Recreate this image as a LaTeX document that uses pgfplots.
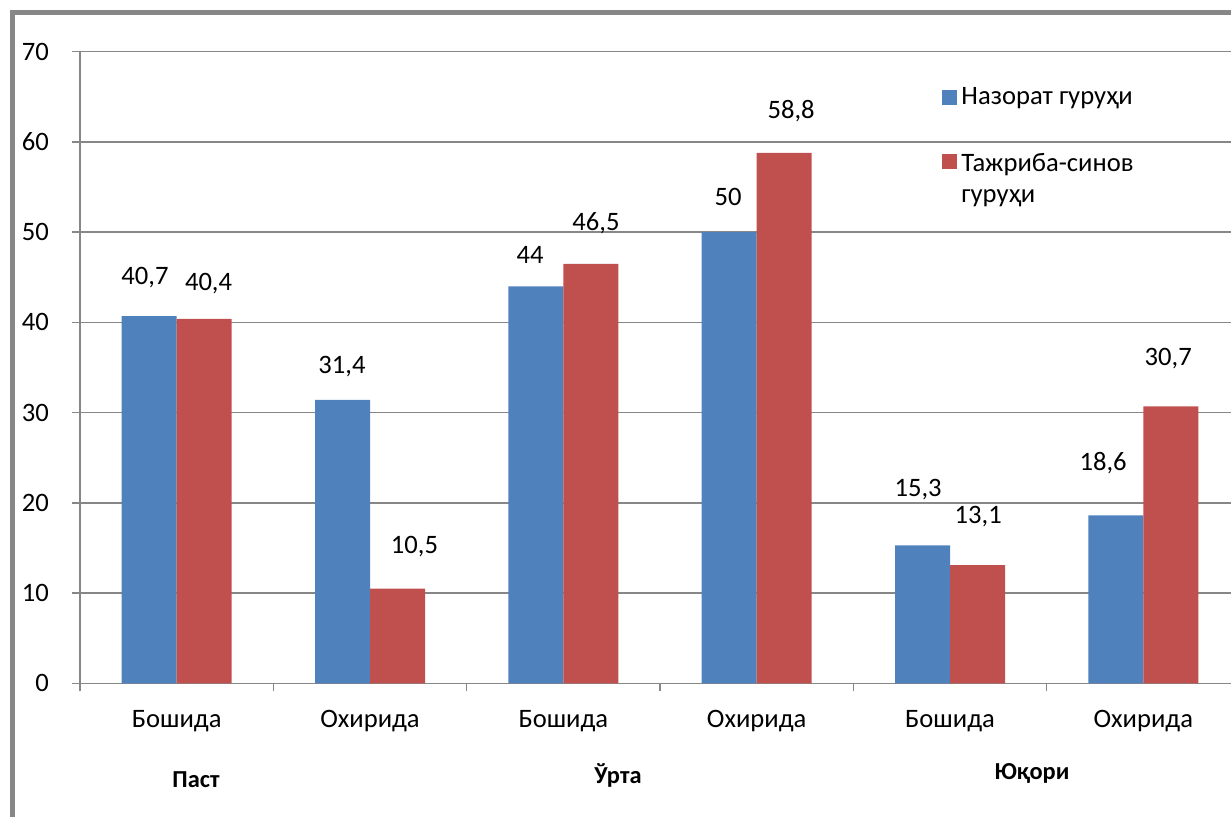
\documentclass[border=0pt]{standalone}
\usepackage{fontspec}
\setmainfont{Carlito}
\usepackage{pgfplots}
\pgfplotsset{compat=1.18}
\definecolor{barblue}{HTML}{4F81BD}
\definecolor{barred}{HTML}{C0504D}
\definecolor{gridgray}{HTML}{878787}
\newcommand{\lbl}{\fontsize{13.3}{15.5}\selectfont}

\begin{document}
\begin{tikzpicture}
\useasboundingbox (0,0) rectangle (615.5pt,-408pt);
\clip (0,0) rectangle (615.5pt,-408pt);
\draw[gridgray, line width=2.5pt] (6.25pt,-6pt) rectangle (700pt,-500pt);
\begin{axis}[
  at={(40pt,-341.65pt)}, anchor=south west,
  scale only axis, width=580pt, height=315.8pt,
  xmin=-0.5, xmax=5.5, ymin=0, ymax=70,
  ybar=0pt, bar width=27.5pt,
  axis lines*=left,
  axis line style={gridgray, line width=0.75pt},
  ymajorgrids, grid style={gridgray, line width=0.75pt},
  ytick={0,10,...,70},
  xtick={-0.5,0.5,...,5.5},
  xticklabels={Бошида,Охирида,Бошида,Охирида,Бошида,Охирида},
  x tick label as interval,
  tick align=outside, major tick length=4pt,
  tick style={gridgray, line width=0.75pt},
  every tick label/.append style={font=\lbl, text=black},
  xticklabel style={anchor=base, yshift=-18pt},
  yticklabel style={anchor=east, xshift=-8pt},
  /pgf/number format/assume math mode=true,
  legend style={draw=none, fill=none, at={(0.738,0.957)}, anchor=north west,
    font=\lbl, row sep=17pt, legend cell align=left},
  legend image code/.code={\fill[#1] (0pt,-3.75pt) rectangle (7.5pt,3.75pt);},
]
\addplot[fill=barblue, draw=none] coordinates {(0,40.7) (1,31.4) (2,44) (3,50) (4,15.3) (5,18.6)};
\addlegendentry{Назорат гуруҳи}
\addplot[fill=barred, draw=none] coordinates {(0,40.4) (1,10.5) (2,46.5) (3,58.8) (4,13.1) (5,30.7)};
\addlegendentry{\begin{tabular}[t]{@{}l@{}}Тажриба-синов\\гуруҳи\end{tabular}}

\begin{scope}[every node/.style={font=\lbl, anchor=base, inner sep=0pt}]
\node at (axis cs:-0.164,44.15) {40,7};
\node at (axis cs:0.165,43.56) {40,4};
\node at (axis cs:0.855,34.39) {31,4};
\node at (axis cs:1.230,14.44) {10,5};
\node at (axis cs:1.828,46.58) {44};
\node at (axis cs:2.169,50.16) {46,5};
\node at (axis cs:2.852,52.93) {50};
\node at (axis cs:3.178,62.62) {58,8};
\node at (axis cs:3.835,20.76) {15,3};
\node at (axis cs:4.146,17.66) {13,1};
\node at (axis cs:4.792,23.64) {18,6};
\node at (axis cs:5.129,35.17) {30,7};
\end{scope}
\end{axis}
\begin{scope}[every node/.style={font=\fontsize{12.2}{14}\selectfont\bfseries, anchor=base, inner sep=0pt}]
\node at (98pt,-393.5pt) {Паст};
\node at (309pt,-391.5pt) {Ўрта};
\node at (516pt,-389.5pt) {Юқори};
\end{scope}
\end{tikzpicture}
\end{document}
